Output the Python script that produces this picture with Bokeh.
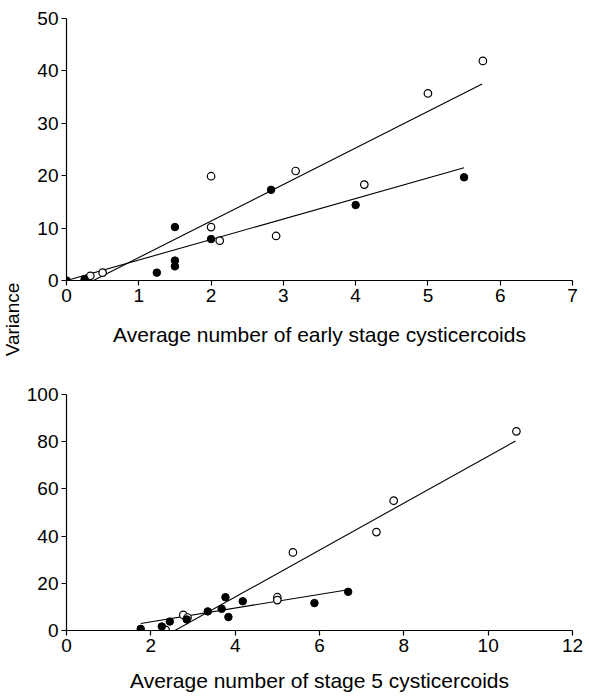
import math
from bokeh.plotting import figure
from bokeh.layouts import column, row
from bokeh.models import Range1d, FixedTicker
from bokeh.core.properties import value
from bokeh.embed import file_html
from bokeh.resources import INLINE

# ---------------- data ----------------
# Top panel: early stage cysticercoids
top_filled_x = [0.0, 0.25, 1.25, 1.5, 1.5, 1.5, 2.0, 2.83, 4.0, 5.5]
top_filled_y = [0.0, 0.25, 1.5, 10.2, 3.8, 2.7, 7.9, 17.3, 14.4, 19.7]
top_open_x = [0.3, 0.33, 0.5, 2.0, 2.0, 2.12, 2.9, 3.17, 4.12, 5.0, 5.76]
top_open_y = [0.3, 0.9, 1.5, 19.9, 10.2, 7.6, 8.5, 20.9, 18.3, 35.7, 41.9]
top_filled_fit_x = [0.0, 5.5]
top_filled_fit_y = [0.0, 21.5]
top_open_fit_x = [0.30, 5.75]
top_open_fit_y = [-0.5, 37.5]
top_xticks = [0, 1, 2, 3, 4, 5, 6, 7]
top_yticks = [0, 10, 20, 30, 40, 50]

# Bottom panel: stage 5 cysticercoids
bot_filled_x = [1.76, 2.26, 2.45, 2.85, 3.35, 3.68, 3.77, 3.84, 4.18, 5.88, 6.68]
bot_filled_y = [0.7, 1.7, 3.8, 4.7, 8.1, 9.2, 14.1, 5.7, 12.4, 11.6, 16.4]
bot_open_x = [2.35, 2.77, 2.87, 5.0, 5.0, 5.37, 7.35, 7.76, 10.67]
bot_open_y = [0.3, 6.6, 5.5, 14.1, 12.9, 33.1, 41.7, 55.0, 84.4]
bot_filled_fit_x = [1.76, 6.68]
bot_filled_fit_y = [3.0, 17.3]
bot_open_fit_x = [2.32, 10.65]
bot_open_fit_y = [-2.5, 80.3]
bot_xticks = [0, 2, 4, 6, 8, 10, 12]
bot_yticks = [0, 20, 40, 60, 80, 100]

top_xlabel = "Average number of early stage cysticercoids"
bot_xlabel = "Average number of stage 5 cysticercoids"
ylabel = "Variance"

FONT = "Liberation Sans"
TICK_FS = "19px"
LABEL_FS = "21px"


def style(p, xticks, yticks, xlabel, label_standoff):
    p.grid.visible = False
    p.outline_line_color = None
    p.background_fill_color = "white"
    p.border_fill_color = "white"
    p.xaxis.ticker = FixedTicker(ticks=xticks)
    p.yaxis.ticker = FixedTicker(ticks=yticks)
    for ax in (p.xaxis[0], p.yaxis[0]):
        ax.axis_line_color = "black"
        ax.axis_line_width = 1.2
        ax.major_tick_line_color = "black"
        ax.major_tick_line_width = 1.2
        ax.major_tick_in = 0
        ax.major_tick_out = 5
        ax.minor_tick_line_color = None
        ax.major_label_text_font = FONT
        ax.major_label_text_font_size = TICK_FS
        ax.major_label_text_color = "black"
    p.xaxis.major_label_standoff = 3
    p.yaxis.major_label_standoff = 3
    p.xaxis.axis_label = xlabel
    p.xaxis.axis_label_standoff = label_standoff
    p.xaxis.axis_label_text_font = FONT
    p.xaxis.axis_label_text_font_size = LABEL_FS
    p.xaxis.axis_label_text_font_style = "normal"
    p.xaxis.axis_label_text_color = "black"


def draw(p, fx, fy, ox, oy, ffx, ffy, ofx, ofy):
    p.line(ffx, ffy, line_color="black", line_width=1.1)
    p.line(ofx, ofy, line_color="black", line_width=1.1)
    p.scatter(ox, oy, marker="circle", size=7.5, fill_color="white",
              line_color="black", line_width=1.2)
    p.scatter(fx, fy, marker="circle", size=7.5, fill_color="black",
              line_color="black", line_width=1)


# narrow figure carrying the shared y-axis title
lab = figure(width=22, height=698, x_range=Range1d(0, 22), y_range=Range1d(0, 698),
             min_border=0, output_backend="svg", toolbar_location=None)
lab.axis.visible = False
lab.grid.visible = False
lab.outline_line_color = None
lab.text(x=[11.5], y=[379], text=[ylabel], angle=math.pi / 2,
         text_align="center", text_baseline="middle",
         text_font=value(FONT), text_font_size=value("19px"), text_color="black")

p1 = figure(width=567, height=350, x_range=Range1d(0, 7), y_range=Range1d(0, 50),
            min_border_left=44, min_border_right=17, min_border_top=18,
            min_border_bottom=70, output_backend="svg", toolbar_location=None)
style(p1, top_xticks, top_yticks, top_xlabel, 18)
draw(p1, top_filled_x, top_filled_y, top_open_x, top_open_y,
     top_filled_fit_x, top_filled_fit_y, top_open_fit_x, top_open_fit_y)

p2 = figure(width=567, height=348, x_range=Range1d(0, 12), y_range=Range1d(0, 100),
            min_border_left=44, min_border_right=17, min_border_top=44,
            min_border_bottom=68, output_backend="svg", toolbar_location=None)
style(p2, bot_xticks, bot_yticks, bot_xlabel, 14)
draw(p2, bot_filled_x, bot_filled_y, bot_open_x, bot_open_y,
     bot_filled_fit_x, bot_filled_fit_y, bot_open_fit_x, bot_open_fit_y)

layout = row(lab, column(p1, p2, spacing=0), spacing=0)
open("out.html", "w").write(file_html(layout, INLINE))
